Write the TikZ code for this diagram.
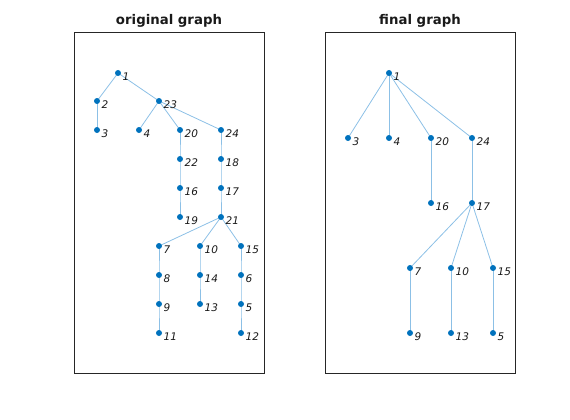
\documentclass[tikz,border=0pt]{standalone}
\usepackage{fontspec}
\setmainfont{DejaVu Sans}
\usepackage{tikz}
\definecolor{dotblue}{RGB}{0,114,189}
\definecolor{edgeblue}{RGB}{140,192,230}
\tikzset{
  lbl/.style={anchor=west, inner sep=0pt, xshift=4.5pt, yshift=-3.5pt, text=black!90, font=\fontsize{10.5}{12}\selectfont\itshape},
  edge/.style={draw=edgeblue, line width=0.8pt},
  axbox/.style={draw=black!85, line width=0.6pt},
  ttl/.style={text=black!90, font=\fontsize{13.3}{15}\selectfont\bfseries}
}
\newcommand{\vtx}[2]{\fill[dotblue] (#1) circle (3) node[lbl] {#2};}
\begin{document}
\begin{tikzpicture}[x=1pt, y=-1pt]
    \useasboundingbox (0,0) rectangle (570,420);

    % Axes boxes and titles
    \draw[axbox] (74,32) rectangle (264,373);
    \draw[axbox] (325,32) rectangle (515,373);
    \node[ttl] (tleft) at (169,21) {original graph};
    \node[ttl] (tright) at (420,21) {final graph};

    % Define coordinates (original graph)
    \coordinate (a1) at (118,73);
    \coordinate (a2) at (97,101);
    \coordinate (a23) at (159,101);
    \coordinate (a3) at (97,130);
    \coordinate (a4) at (139,130);
    \coordinate (a20) at (180,130);
    \coordinate (a24) at (221,130);
    \coordinate (a22) at (180,159);
    \coordinate (a18) at (221,159);
    \coordinate (a16) at (180,188);
    \coordinate (a17) at (221,188);
    \coordinate (a19) at (180,217);
    \coordinate (a21) at (221,217);
    \coordinate (a7) at (159,246);
    \coordinate (a10) at (200,246);
    \coordinate (a15) at (241,246);
    \coordinate (a8) at (159,275);
    \coordinate (a14) at (200,275);
    \coordinate (a6) at (241,275);
    \coordinate (a9) at (159,304);
    \coordinate (a13) at (200,304);
    \coordinate (a5) at (241,304);
    \coordinate (a11) at (159,333);
    \coordinate (a12) at (241,333);

    % Draw lines between points
    \draw[edge] (a1) -- (a2);
    \draw[edge] (a1) -- (a23);
    \draw[edge] (a2) -- (a3);
    \draw[edge] (a23) -- (a4);
    \draw[edge] (a23) -- (a20);
    \draw[edge] (a23) -- (a24);
    \draw[edge] (a20) -- (a22) -- (a16) -- (a19);
    \draw[edge] (a24) -- (a18) -- (a17) -- (a21);
    \draw[edge] (a21) -- (a7);
    \draw[edge] (a21) -- (a10);
    \draw[edge] (a21) -- (a15);
    \draw[edge] (a7) -- (a8) -- (a9) -- (a11);
    \draw[edge] (a10) -- (a14) -- (a13);
    \draw[edge] (a15) -- (a6) -- (a5) -- (a12);

    % Draw points
    \foreach \n in {1,2,23,3,4,20,24,22,18,16,17,19,21,7,10,15,8,14,6,9,13,5,11,12}
      {\vtx{a\n}{\n}}

    % Define coordinates (final graph)
    \coordinate (b1) at (389,73);
    \coordinate (b3) at (348,138);
    \coordinate (b4) at (389,138);
    \coordinate (b20) at (431,138);
    \coordinate (b24) at (472,138);
    \coordinate (b16) at (431,203);
    \coordinate (b17) at (472,203);
    \coordinate (b7) at (410,268);
    \coordinate (b10) at (451,268);
    \coordinate (b15) at (493,268);
    \coordinate (b9) at (410,333);
    \coordinate (b13) at (451,333);
    \coordinate (b5) at (493,333);

    % Draw lines between points
    \draw[edge] (b1) -- (b3);
    \draw[edge] (b1) -- (b4);
    \draw[edge] (b1) -- (b20);
    \draw[edge] (b1) -- (b24);
    \draw[edge] (b20) -- (b16);
    \draw[edge] (b24) -- (b17);
    \draw[edge] (b17) -- (b7);
    \draw[edge] (b17) -- (b10);
    \draw[edge] (b17) -- (b15);
    \draw[edge] (b7) -- (b9);
    \draw[edge] (b10) -- (b13);
    \draw[edge] (b15) -- (b5);

    % Draw points
    \foreach \n in {1,3,4,20,24,16,17,7,10,15,9,13,5}
      {\vtx{b\n}{\n}}
\end{tikzpicture}
\end{document}
